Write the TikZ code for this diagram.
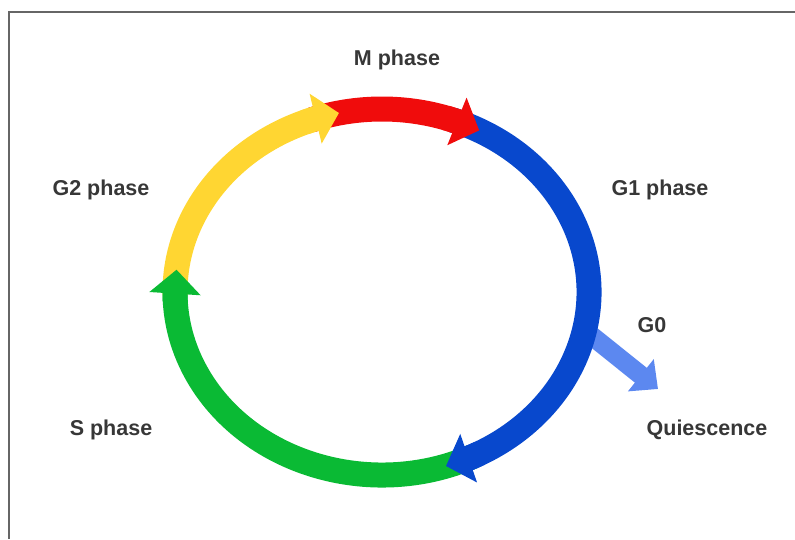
\documentclass[tikz,border=0pt]{standalone}
\usepackage{fontspec}
\setmainfont{Liberation Sans}
\usetikzlibrary{arrows.meta}
\usetikzlibrary{bending}

\definecolor{mred}{RGB}{240,12,12}
\definecolor{gyellow}{RGB}{255,214,50}
\definecolor{gblue}{RGB}{8,72,205}
\definecolor{sgreen}{RGB}{10,186,52}
\definecolor{qblue}{RGB}{92,136,240}
\definecolor{labelgray}{RGB}{55,55,55}

\begin{document}
\begin{tikzpicture} [x=1pt,y=1pt,
  band/.style={line width=25pt},
  phase/.style={band, -{Triangle[width=50pt,length=24pt]}},
  lbl/.style={font=\fontsize{21.5}{25}\selectfont\bfseries, text=labelgray, inner sep=0pt}]
\useasboundingbox (0,0) rectangle (795,539);
\draw[gray!80!black, line width=2pt] (795,527) -- (9,527) -- (9,0);

\coordinate (c) at (382,247);
\path (c) ++(-12:207 and 183) coordinate (q0);
\coordinate (q1) at (658,150);

\draw[qblue, line width=19pt, -{Triangle[width=40pt,length=22pt]}] (q0) -- (q1);

\foreach \a/\b/\col in {-64/-183/sgreen, 181/106/gyellow, 110/66/mred, 70/-68/gblue}
\draw[band, \col] (c) ++(\a:207 and 183) arc[start angle=\a, end angle=\b, x radius=207, y radius=183];

\foreach \a/\b/\col in {-177/-187/sgreen, 112/102/gyellow, 72/62/mred, -62/-72/gblue}
\draw[phase, \col] (c) ++(\a:207 and 183) arc[start angle=\a, end angle=\b, x radius=207, y radius=183];

\node[lbl] (mlabel) at (397,479) {M phase};
\node[lbl] (g1label) at (660,349) {G1 phase};
\node[lbl] (g2label) at (101,349) {G2 phase};
\node[lbl] (slabel) at (111,109) {S phase};
\node[lbl] (g0label) at (652,214) {G0};
\node[lbl] (qlabel) at (707,109) {Quiescence};

\end{tikzpicture}
\end{document}
